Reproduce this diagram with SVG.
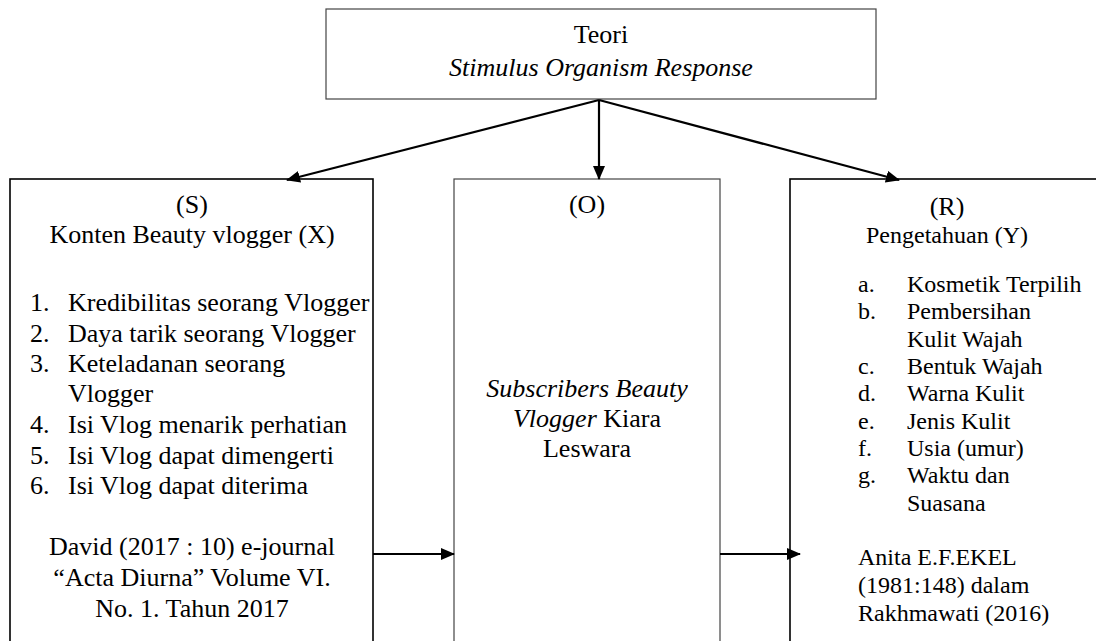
<svg xmlns="http://www.w3.org/2000/svg" width="1096" height="641" viewBox="0 0 1096 641">
<style>
.box{fill:#fff;stroke:#000;stroke-width:1.6}
.boxg{fill:#fff;stroke:#444;stroke-width:1.2}
.t{font-family:"Liberation Serif","Times New Roman",serif;font-size:26px;fill:#000}
.ts{font-family:"Liberation Serif","Times New Roman",serif;font-size:24px;fill:#000}
.c{text-anchor:middle}
.i{font-style:italic}
.con{stroke:#000;stroke-width:2.2;fill:none}
</style>
<defs>
<marker id="ah" markerWidth="14" markerHeight="12" refX="13" refY="6" orient="auto" markerUnits="userSpaceOnUse">
<path d="M0,0 L14,6 L0,12 z" fill="#000"/>
</marker>
<clipPath id="clipL"><rect x="0" y="0" width="373" height="641"/></clipPath>
</defs>
<g id="teori">
<rect class="boxg" x="326" y="9" width="550" height="90"/>
<text class="t c" x="601" y="43">Teori</text>
<text class="t c i" x="601" y="76">Stimulus Organism Response</text>
</g>
<g id="stimulus">
<rect class="box" x="10" y="179" width="363" height="480"/>
<text class="t c" x="192" y="213">(S)</text>
<text class="t c" x="192" y="243">Konten Beauty vlogger (X)</text>
<g clip-path="url(#clipL)">
<text class="t" x="30" y="311">1.</text><text class="t" x="68" y="311">Kredibilitas seorang Vlogger</text>
</g>
<text class="t" x="30" y="342">2.</text><text class="t" x="68" y="342">Daya tarik seorang Vlogger</text>
<text class="t" x="30" y="372">3.</text><text class="t" x="68" y="372">Keteladanan seorang</text>
<text class="t" x="68" y="402">Vlogger</text>
<text class="t" x="30" y="433">4.</text><text class="t" x="68" y="433">Isi Vlog menarik perhatian</text>
<text class="t" x="30" y="464">5.</text><text class="t" x="68" y="464">Isi Vlog dapat dimengerti</text>
<text class="t" x="30" y="494">6.</text><text class="t" x="68" y="494">Isi Vlog dapat diterima</text>
<text class="t c" x="192" y="555">David (2017 : 10) e-journal</text>
<text class="t c" x="192" y="586">“Acta Diurna” Volume VI.</text>
<text class="t c" x="192" y="617">No. 1. Tahun 2017</text>
</g>
<g id="organism">
<rect class="boxg" x="454" y="179" width="266" height="480"/>
<text class="t c" x="587" y="213">(O)</text>
<text class="t c i" x="587" y="397">Subscribers Beauty</text>
<text class="t c" x="587" y="427"><tspan class="i">Vlogger</tspan> Kiara</text>
<text class="t c" x="587" y="457">Leswara</text>
</g>
<g id="response">
<rect class="box" x="790" y="179" width="320" height="480"/>
<text class="t c" x="947" y="215">(R)</text>
<text class="ts c" x="947" y="243">Pengetahuan (Y)</text>
<text class="ts" x="858" y="292">a.</text><text class="ts" x="907" y="292">Kosmetik Terpilih</text>
<text class="ts" x="858" y="319">b.</text><text class="ts" x="907" y="319">Pembersihan</text>
<text class="ts" x="907" y="347">Kulit Wajah</text>
<text class="ts" x="858" y="374">c.</text><text class="ts" x="907" y="374">Bentuk Wajah</text>
<text class="ts" x="858" y="401">d.</text><text class="ts" x="907" y="401">Warna Kulit</text>
<text class="ts" x="858" y="429">e.</text><text class="ts" x="907" y="429">Jenis Kulit</text>
<text class="ts" x="858" y="456">f.</text><text class="ts" x="907" y="456">Usia (umur)</text>
<text class="ts" x="858" y="483">g.</text><text class="ts" x="907" y="483">Waktu dan</text>
<text class="ts" x="907" y="511">Suasana</text>
<text class="ts" x="858" y="565">Anita E.F.EKEL</text>
<text class="ts" x="858" y="593">(1981:148) dalam</text>
<text class="ts" x="858" y="621">Rakhmawati (2016)</text>
</g>
<g id="connectors">
<line class="con" x1="599" y1="100" x2="287" y2="180" marker-end="url(#ah)"/>
<line class="con" x1="599" y1="100" x2="599" y2="179" marker-end="url(#ah)"/>
<line class="con" x1="599" y1="100" x2="899" y2="180" marker-end="url(#ah)"/>
<line class="con" x1="373" y1="554" x2="454" y2="554" marker-end="url(#ah)"/>
<line class="con" x1="720" y1="554" x2="800" y2="554" marker-end="url(#ah)"/>
</g>
</svg>
